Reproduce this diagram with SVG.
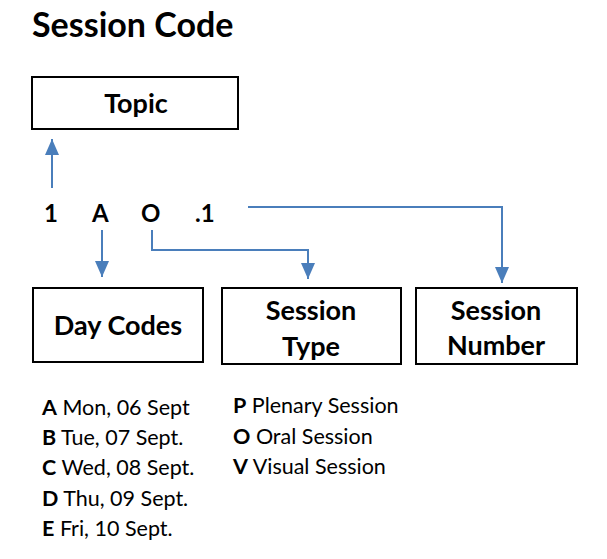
<svg xmlns="http://www.w3.org/2000/svg" width="607" height="559" viewBox="0 0 607 559">
<style>
text{font-family:Lato,"Open Sans","Liberation Sans",sans-serif;fill:#000}
.b{font-weight:bold}
.box{fill:#fff;stroke:#000;stroke-width:2}
.lbl{font-size:27px;font-weight:bold;text-anchor:middle}
.code{font-size:24px;font-weight:bold}
.leg{font-size:21.5px}
.con{fill:none;stroke:#4a7ebb;stroke-width:2}
</style>
<defs>
<marker id="ah" viewBox="0 0 16 14" refX="16" refY="7" markerWidth="8" markerHeight="7" orient="auto" markerUnits="strokeWidth">
<path d="M0,0 L16,7 L0,14 z" fill="#4a7ebb"/>
</marker>
</defs>
<text x="32" y="37" class="b" font-size="34">Session Code</text>
<g id="topic"><rect class="box" x="32" y="77" width="206" height="52"/><text class="lbl" x="136" y="113">Topic</text></g>
<g id="code"><text class="code" x="44" y="222">1</text><text class="code" x="92" y="222">A</text><text class="code" x="141" y="222">O</text><text class="code" x="195" y="222">.1</text></g>
<g id="daycodes"><rect class="box" x="33" y="288" width="170" height="74"/><text class="lbl" x="118" y="335">Day Codes</text></g>
<g id="sessiontype"><rect class="box" x="222" y="288" width="179" height="76"/><text class="lbl" x="311" y="320">Session</text><text class="lbl" x="311" y="356">Type</text></g>
<g id="sessionnumber"><rect class="box" x="416" y="288" width="161" height="76"/><text class="lbl" x="496" y="320">Session</text><text class="lbl" x="496" y="355">Number</text></g>
<g id="connectors">
<path class="con" d="M52,188 V139" marker-end="url(#ah)"/>
<path class="con" d="M102,230 V277" marker-end="url(#ah)"/>
<path class="con" d="M152,230 V250 H308 V279" marker-end="url(#ah)"/>
<path class="con" d="M248,207 H502 V283" marker-end="url(#ah)"/>
</g>
<g id="legend-days" class="leg">
<text x="42" y="415"><tspan class="b">A</tspan> Mon, 06 Sept</text>
<text x="42" y="445"><tspan class="b">B</tspan> Tue, 07 Sept.</text>
<text x="42" y="475"><tspan class="b">C</tspan> Wed, 08 Sept.</text>
<text x="42" y="506"><tspan class="b">D</tspan> Thu, 09 Sept.</text>
<text x="42" y="536"><tspan class="b">E</tspan> Fri, 10 Sept.</text>
</g>
<g id="legend-types" class="leg">
<text x="233" y="413"><tspan class="b">P</tspan> Plenary Session</text>
<text x="233" y="444"><tspan class="b">O</tspan> Oral Session</text>
<text x="233" y="474"><tspan class="b">V</tspan> Visual Session</text>
</g>
</svg>
